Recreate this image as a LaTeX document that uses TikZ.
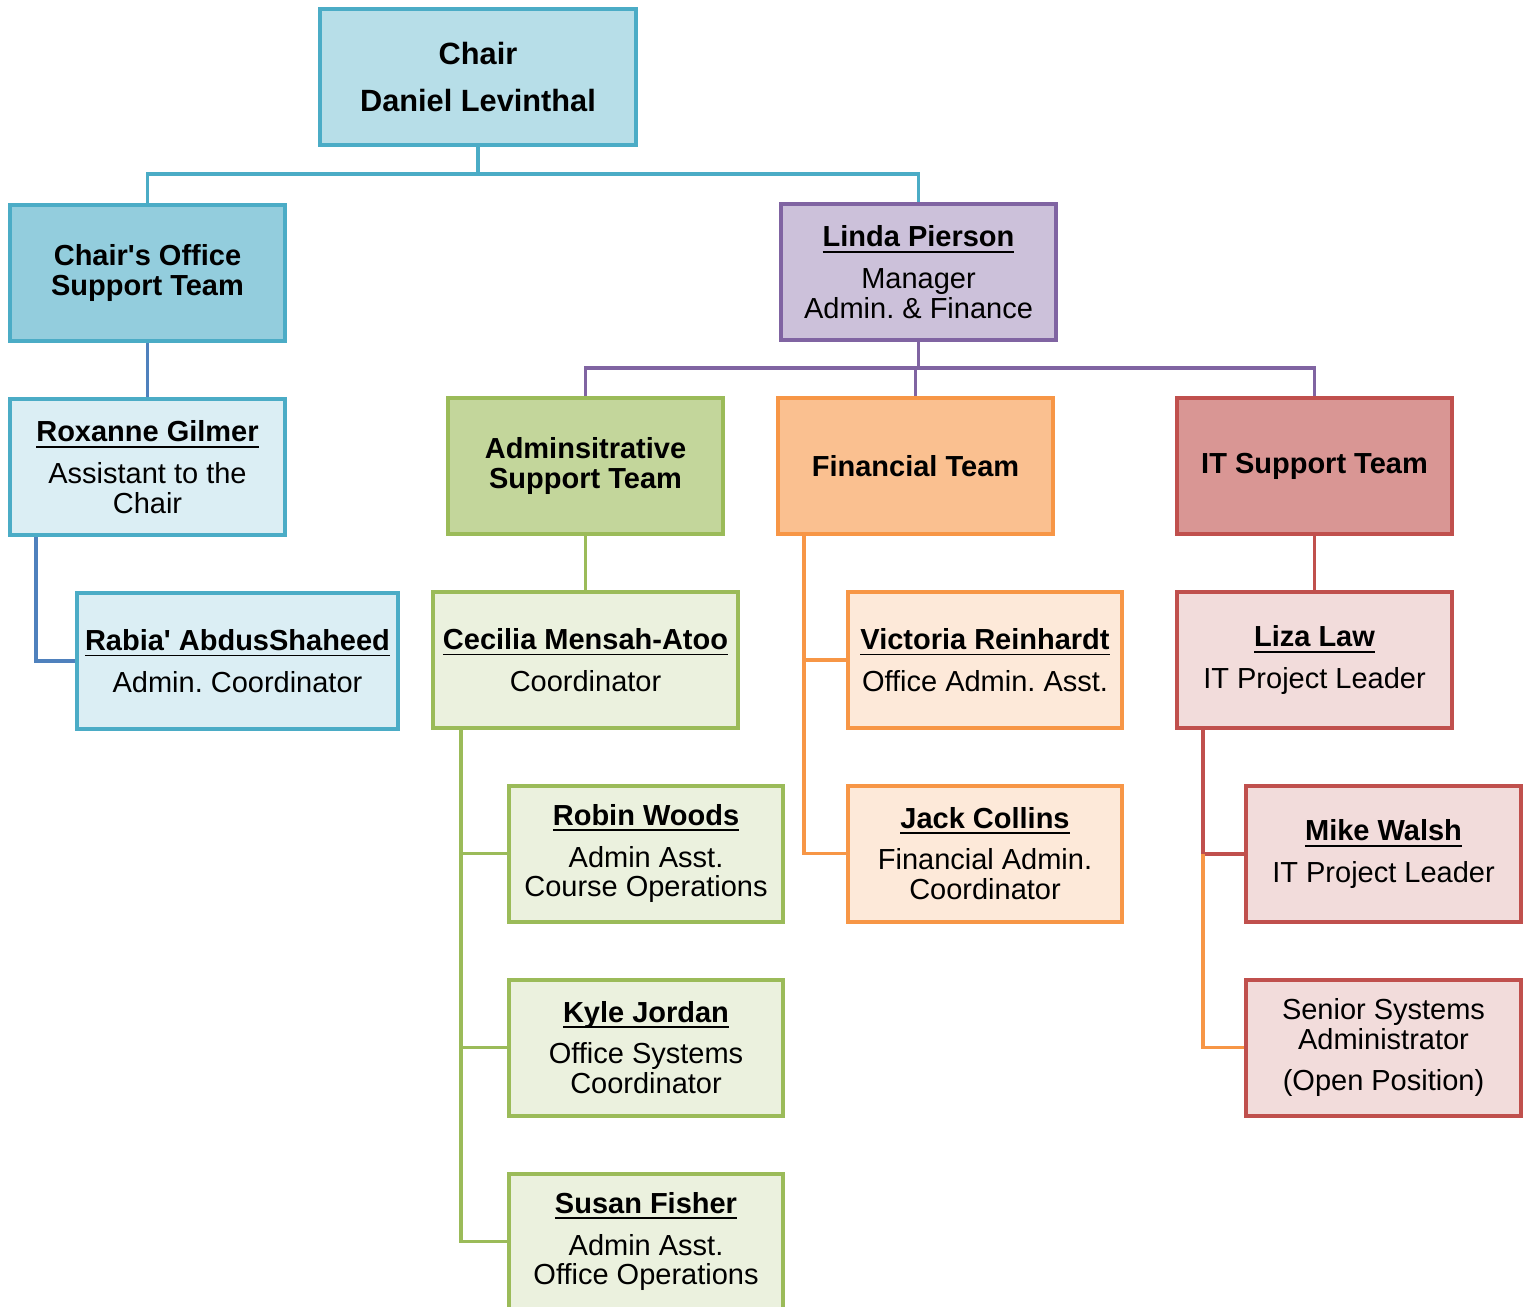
\documentclass[tikz,border=0pt]{standalone}
\usepackage{fontspec}
\setmainfont{Liberation Sans}
\usepackage{tikz}
\usetikzlibrary{positioning,calc}
\usepackage{xcolor}
\definecolor{tealline}{HTML}{4BACC6}
\definecolor{blueline}{HTML}{4F81BD}
\definecolor{purpleline}{HTML}{8064A2}
\definecolor{greenline}{HTML}{9BBB59}
\definecolor{orangeline}{HTML}{F79646}
\definecolor{redline}{HTML}{C0504D}
\definecolor{chairfill}{HTML}{B7DEE8}
\definecolor{officefill}{HTML}{93CDDD}
\definecolor{tealfill}{HTML}{DBEEF4}
\definecolor{purplefill}{HTML}{CCC1DA}
\definecolor{greenhead}{HTML}{C3D69B}
\definecolor{greenfill}{HTML}{EBF1DE}
\definecolor{orangehead}{HTML}{FAC090}
\definecolor{orangefill}{HTML}{FDE9D9}
\definecolor{redhead}{HTML}{D99694}
\definecolor{redfill}{HTML}{F2DCDB}
% bold underlined name
\newcommand{\who}[1]{\setbox0\hbox{\textbf{#1}}\leavevmode\rlap{\rule[-0.12cm]{\wd0}{1.1pt}}\box0}
\frenchspacing
\tikzset{
    box/.style={
        draw,
        rectangle,
        line width=0.08cm,
        minimum width=5.5cm,
        minimum height=2.72cm,
        align=center,
        inner sep=2pt,
        font=\fontsize{16.5}{17}\selectfont
    },
    headbox/.style={font=\fontsize{16.5}{17}\selectfont\bfseries},
    tealbox/.style={box, draw=tealline, fill=tealfill},
    purplebox/.style={box, draw=purpleline, fill=purplefill},
    greenbox/.style={box, draw=greenline, fill=greenfill},
    orangebox/.style={box, draw=orangeline, fill=orangefill},
    redbox/.style={box, draw=redline, fill=redfill},
    link/.style={line width=0.07cm}
}

\begin{document}
\begin{tikzpicture}[x=0.02cm,y=-0.02cm]
  \useasboundingbox (0,0) rectangle (1523,1306);

  % Chair and the two units under it
  \node[tealbox, fill=chairfill, minimum width=6.32cm,
        font=\fontsize{17.5}{18}\selectfont\bfseries] (chair) at (478,77)
        {Chair\\[0.3cm]Daniel Levinthal};
  \node[tealbox, headbox, fill=officefill] (office) at (147.5,273)
        {Chair\textquotesingle s Office\\Support Team};
  \node[purplebox] (linda) at (918.5,272)
        {\who{Linda Pierson}\\[0.24cm]Manager\\Admin. \& Finance};

  % Chair's office staff
  \node[tealbox] (rox) at (147.5,467)
        {\who{Roxanne Gilmer}\\[0.24cm]Assistant to the\\Chair};
  \node[tealbox, minimum width=6.42cm] (rabia) at (237.5,661)
        {\who{Rabia\textquotesingle\ AbdusShaheed}\\[0.24cm]Admin. Coordinator};

  % Teams under Admin. & Finance
  \node[greenbox, headbox, fill=greenhead] (admin) at (585.5,466)
        {Adminsitrative\\Support Team};
  \node[orangebox, headbox, fill=orangehead] (fin) at (915.5,466)
        {Financial Team};
  \node[redbox, headbox, fill=redhead] (it) at (1314.5,466)
        {IT Support Team};

  % Administrative support staff
  \node[greenbox, minimum width=6.1cm] (cec) at (585.5,660)
        {\who{Cecilia Mensah-Atoo}\\[0.24cm]Coordinator};
  \node[greenbox] (robin) at (646,853.5)
        {\who{Robin Woods}\\[0.24cm]Admin Asst.\\Course Operations};
  \node[greenbox] (kyle) at (646,1047.5)
        {\who{Kyle Jordan}\\[0.24cm]Office Systems\\Coordinator};
  \node[greenbox] (susan) at (646,1241.5)
        {\who{Susan Fisher}\\[0.24cm]Admin Asst.\\Office Operations};

  % Financial staff
  \node[orangebox] (vic) at (985,660)
        {\who{Victoria Reinhardt}\\[0.24cm]Office Admin. Asst.};
  \node[orangebox] (jack) at (985,853.5)
        {\who{Jack Collins}\\[0.24cm]Financial Admin.\\Coordinator};

  % IT staff
  \node[redbox] (liza) at (1314.5,660)
        {\who{Liza Law}\\[0.24cm]IT Project Leader};
  \node[redbox] (mike) at (1383.5,854)
        {\who{Mike Walsh}\\[0.24cm]IT Project Leader};
  \node[redbox] (senior) at (1383.5,1047.5)
        {Senior Systems\\Administrator\\[0.24cm](Open Position)};

  % Connectors from the Chair
  \coordinate (chairbus) at (478,174);
  \draw[link, tealline] (chair.south) -- (chairbus) -| (office.north);
  \draw[link, tealline] (chairbus) -| (linda.north);
  \draw[link, blueline] (office.south) -- (rox.north);
  \draw[link, blueline] ([xshift=0.56cm]rox.south west) |- (rabia.west);

  % Connectors from Linda Pierson
  \coordinate (lindabus) at (918.5,368);
  \draw[link, purpleline] (linda.south) -- (lindabus);
  \draw[link, purpleline] (admin.north) |- (lindabus) -| (it.north);
  \draw[link, purpleline] (fin.north) |- (lindabus);

  % Connectors inside the teams
  \draw[link, greenline] (admin.south) -- (cec.north);
  \coordinate (cecturn) at ([xshift=0.6cm]cec.south west);
  \draw[link, greenline] (cecturn) |- (susan.west);
  \draw[link, greenline] (cecturn) |- (robin.west);
  \draw[link, greenline] (cecturn) |- (kyle.west);

  \coordinate (finturn) at ([xshift=0.56cm]fin.south west);
  \draw[link, orangeline] (finturn) |- (jack.west);
  \draw[link, orangeline] (finturn) |- (vic.west);

  \draw[link, redline] (it.south) -- (liza.north);
  \coordinate (lizaturn) at ([xshift=0.56cm]liza.south west);
  \draw[link, redline] (lizaturn) |- (mike.west);
  \draw[link, orangeline] (lizaturn |- mike.west) |- (senior.west);
\end{tikzpicture}
\end{document}
